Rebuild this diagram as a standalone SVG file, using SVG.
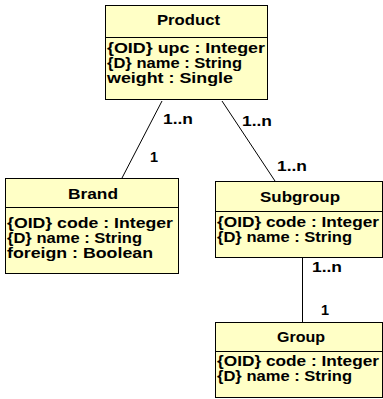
<svg xmlns="http://www.w3.org/2000/svg" width="383" height="399" viewBox="0 0 383 399">
<style>
.box{fill:#FFFFC6;stroke:#000;stroke-width:1}
.sep{stroke:#000;stroke-width:1}
.t{font-family:"Liberation Sans",Arial,sans-serif;font-weight:bold;font-size:14.5px;fill:#000}
.ln{stroke:#000;stroke-width:1;fill:none}
</style>
<rect width="383" height="399" fill="#fff"/>
<g id="connectors">
<line class="ln" x1="162" y1="101" x2="122" y2="178"/>
<line class="ln" x1="222" y1="101" x2="275" y2="181"/>
<line class="ln" x1="302.5" y1="258" x2="302.5" y2="322"/>
<text class="t" x="163" y="124" textLength="30" lengthAdjust="spacingAndGlyphs">1..n</text>
<text class="t" x="150" y="162">1</text>
<text class="t" x="242" y="126" textLength="30" lengthAdjust="spacingAndGlyphs">1..n</text>
<text class="t" x="277" y="171" textLength="30" lengthAdjust="spacingAndGlyphs">1..n</text>
<text class="t" x="312" y="272" textLength="30" lengthAdjust="spacingAndGlyphs">1..n</text>
<text class="t" x="321" y="315">1</text>
</g>
<g id="product">
<rect class="box" x="105.5" y="5.5" width="162" height="94"/>
<line class="sep" x1="105.5" y1="37.5" x2="267.5" y2="37.5"/>
<text class="t" x="157" y="25" textLength="63" lengthAdjust="spacingAndGlyphs">Product</text>
<text class="t" x="107" y="53" textLength="158" lengthAdjust="spacingAndGlyphs">{OID} upc : Integer</text>
<text class="t" x="107" y="68" textLength="135" lengthAdjust="spacingAndGlyphs">{D} name : String</text>
<text class="t" x="107" y="83" textLength="126" lengthAdjust="spacingAndGlyphs">weight : Single</text>
</g>
<g id="brand">
<rect class="box" x="5.5" y="178.5" width="173" height="95"/>
<line class="sep" x1="5.5" y1="207.5" x2="178.5" y2="207.5"/>
<text class="t" x="68" y="199" textLength="50" lengthAdjust="spacingAndGlyphs">Brand</text>
<text class="t" x="7" y="228" textLength="166" lengthAdjust="spacingAndGlyphs">{OID} code : Integer</text>
<text class="t" x="7" y="243" textLength="135" lengthAdjust="spacingAndGlyphs">{D} name : String</text>
<text class="t" x="7" y="258" textLength="146" lengthAdjust="spacingAndGlyphs">foreign : Boolean</text>
</g>
<g id="subgroup">
<rect class="box" x="215.5" y="181.5" width="167" height="76"/>
<line class="sep" x1="215.5" y1="211.5" x2="382.5" y2="211.5"/>
<text class="t" x="260" y="202" textLength="80" lengthAdjust="spacingAndGlyphs">Subgroup</text>
<text class="t" x="217" y="227" textLength="162" lengthAdjust="spacingAndGlyphs">{OID} code : Integer</text>
<text class="t" x="217" y="242" textLength="135" lengthAdjust="spacingAndGlyphs">{D} name : String</text>
</g>
<g id="group">
<rect class="box" x="215.5" y="322.5" width="167" height="75"/>
<line class="sep" x1="215.5" y1="351.5" x2="382.5" y2="351.5"/>
<text class="t" x="277" y="342" textLength="48" lengthAdjust="spacingAndGlyphs">Group</text>
<text class="t" x="217" y="366" textLength="162" lengthAdjust="spacingAndGlyphs">{OID} code : Integer</text>
<text class="t" x="217" y="381" textLength="135" lengthAdjust="spacingAndGlyphs">{D} name : String</text>
</g>
</svg>
